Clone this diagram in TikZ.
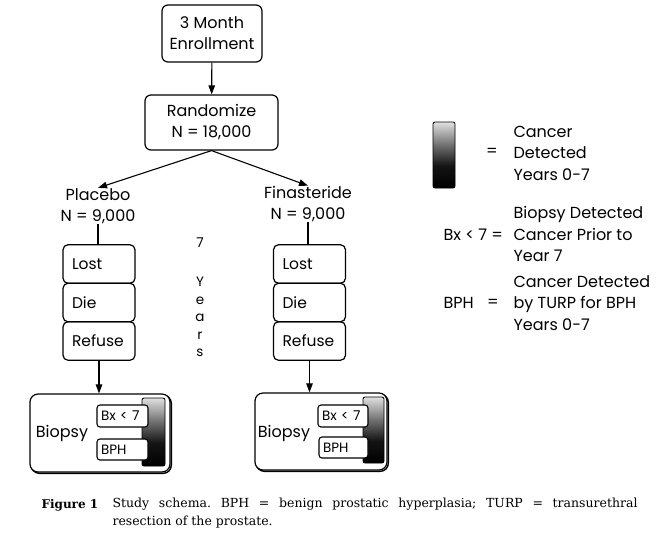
\documentclass[tikz,border=0pt]{standalone}
\usepackage{fontspec}
\setmainfont{Poppins}
\newfontfamily\capfont{DejaVu Serif}
\usetikzlibrary{arrows.meta}
\pgfdeclareverticalshading{cancer}{100bp}{color(0bp)=(black); color(25bp)=(black); color(42bp)=(black!92); color(58bp)=(black!55); color(75bp)=(black!12); color(100bp)=(black!12)}
\begin{document}
\frenchspacing
\begin{tikzpicture}[x=1pt,y=-1pt,
  line width=1.1pt,
  arr/.style={-{Triangle[length=9pt,width=6.5pt]}},
  box/.style={draw, rounded corners=6pt, line width=1.2pt, align=center, inner sep=0pt,
    font=\fontsize{16}{21}\selectfont},
  lbl/.style={align=center, inner sep=0pt, font=\fontsize{16}{21}\selectfont},
  stk/.style={draw, rounded corners=5pt, line width=1.2pt, minimum width=72pt, minimum height=38.5pt,
    inner xsep=9pt, inner ysep=0pt, text width=54pt, align=left, font=\fontsize{15.5}{19}\selectfont},
  bio/.style={draw, fill=white, rounded corners=8pt, line width=1.2pt, inner sep=0pt,
    preaction={draw, line width=1.4pt, rounded corners=8pt, transform canvas={shift={(1.3pt,-1.3pt)}}}},
  cbar/.style={draw, line width=0.8pt, rounded corners=2pt, shading=cancer, inner sep=0pt},
  tag/.style={draw, fill=white, rounded corners=3pt, line width=1.1pt, inner xsep=4pt, inner ysep=0pt,
    align=left, font=\fontsize{13.5}{16}\selectfont},
  leg/.style={align=left, inner sep=0pt, font=\fontsize{16}{21.5}\selectfont},
  yrs/.style={align=center, inner sep=0pt, font=\fontsize{13.5}{17.5}\selectfont}
]
\useasboundingbox (0,0) rectangle (658,539);

% top boxes
\node[box, minimum width=100pt, minimum height=57pt] (enroll) at (212,33.5) {3 Month\\Enrollment};
\node[box, minimum width=133pt, minimum height=55pt] (rand) at (211.5,122.5) {Randomize\\N = 18,000};
\draw[arr] (enroll) -- (rand);

% arms
\node[lbl] (plac) at (98,206) {Placebo\\N = 9,000};
\node[lbl] (fina) at (308,204) {Finasteride\\N = 9,000};
\draw[arr] (rand.south) -- (plac.north);
\draw[arr] (rand.south) -- (fina.north);

% left stack
\node[stk] (lost1) at (99,264) {Lost};
\node[stk] (die1) at (99,302.5) {Die};
\node[stk] (ref1) at (99,341) {Refuse};
\draw (plac.south) -- (plac.south |- lost1.north);

% right stack
\node[stk] (lost2) at (309.5,264) {Lost};
\node[stk] (die2) at (309.5,302.5) {Die};
\node[stk] (ref2) at (309.5,341) {Refuse};
\draw (fina.south) -- (fina.south |- lost2.north);

% 7 Years
\node[yrs] (seven) at (200,243) {7};
\node[yrs] (years) at (200,317) {Y\\e\\a\\r\\s};

% left biopsy
\node[bio, minimum width=140pt, minimum height=78pt] (biop1) at (100,433) {};
\node[lbl] (bt1) at (62,433) {Biopsy};
\node[cbar, minimum width=23pt, minimum height=68pt] (bar1) at (153.5,432) {};
\node[tag, minimum width=51pt, minimum height=22pt, text width=43pt] (bx1) at (122.5,416) {Bx < 7};
\node[tag, minimum width=51pt, minimum height=21pt, text width=43pt] (bph1) at (122.5,449.5) {BPH};
\draw[arr] (ref1.south) -- (ref1.south |- biop1.north);

% right biopsy
\node[bio, minimum width=132pt, minimum height=77pt] (biop2) at (321,431.5) {};
\node[lbl] (bt2) at (284,433) {Biopsy};
\node[cbar, minimum width=21pt, minimum height=66pt] (bar2) at (373.5,430) {};
\node[tag, minimum width=50pt, minimum height=22pt, text width=42pt] (bx2) at (343,416) {Bx < 7};
\node[tag, minimum width=49pt, minimum height=21pt, text width=41pt] (bph2) at (343.5,447.5) {BPH};
\draw[arr] (ref2.south) -- (ref2.south |- biop2.north);

% legend
\node[cbar, minimum width=22pt, minimum height=66pt] (lbar) at (444,155) {};
\node[leg] (eq1) at (492,152) {=};
\node[leg, anchor=west] (lt1) at (513,153) {Cancer\\Detected\\Years 0-7};
\node[leg, anchor=west] (lk2) at (443,235) {Bx < 7 =};
\node[leg, anchor=west] (lt2) at (513,234) {Biopsy Detected\\Cancer Prior to\\Year 7};
\node[leg, anchor=west] (lk3) at (443,303) {BPH};
\node[leg] (eq3) at (493,303) {=};
\node[leg, anchor=west] (lt3) at (513,303) {Cancer Detected\\by TURP for BPH\\Years 0-7};

% caption
\node[anchor=west, inner sep=0pt, font=\capfont\bfseries\fontsize{12}{18}\selectfont] (figl) at (41,505) {Figure 1};
\node[anchor=north west, inner sep=0pt, text width=525pt, align=justify,
  font=\capfont\fontsize{12.5}{18}\selectfont] (cap) at (112,497)
  {Study schema. BPH = benign prostatic hyperplasia; TURP = transurethral\linebreak resection of the prostate.};
\end{tikzpicture}
\end{document}
